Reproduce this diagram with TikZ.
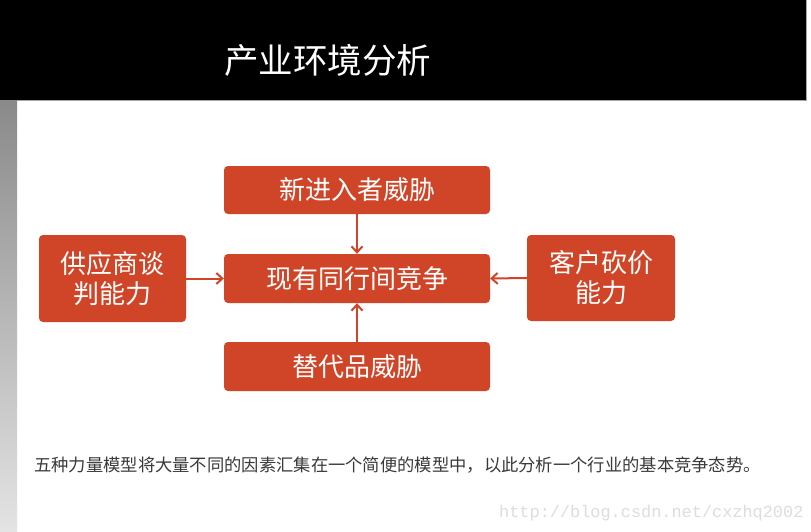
\documentclass[tikz,border=0pt]{standalone}
\usepackage{fontspec}
\newfontfamily\cjk{Noto Sans CJK SC}
\newfontfamily\wmfont{Liberation Mono}
\usetikzlibrary{arrows.meta}
\definecolor{boxred}{HTML}{D04527}
\definecolor{stripTop}{HTML}{8A8A8A}
\definecolor{stripBot}{HTML}{E4E4E4}
\definecolor{captiongray}{HTML}{3A3A3A}
\definecolor{wmgray}{HTML}{DDDDDD}
\tikzset{
  forcebox/.style={fill=boxred, rounded corners=4pt, inner sep=0pt, text=white,
    font=\cjk\fontsize{26}{30}\selectfont, align=center},
  forcearrow/.style={draw=boxred, line width=2pt, -{Straight Barb[length=6pt,width=11pt,line width=2pt]}}
}
\begin{document}
\begin{tikzpicture}[x=1pt,y=-1pt]
\useasboundingbox (0,0) rectangle (811,532);
\fill[white] (0,0) rectangle (811,532);
% header
\fill[black] (0,0) rectangle (806,100);
\draw[gray!70, line width=1pt] (0,100.5) -- (806,100.5);
\draw[gray!70, line width=1pt] (806.5,0) -- (806.5,101);
% left strip
\shade[top color=stripTop, bottom color=stripBot] (0,101) rectangle (17,532);
% title
\node[text=white, font=\cjk\fontsize{34.5}{38}\selectfont, anchor=west, inner sep=0pt] (title) at (224,60) {产业环境分析};
% boxes
\node[forcebox, minimum width=266pt, minimum height=48pt] (new) at (357,190) {新进入者威胁};
\node[forcebox, minimum width=266pt, minimum height=49pt] (rival) at (357,278.5) {现有同行间竞争};
\node[forcebox, minimum width=266pt, minimum height=49pt] (sub) at (357,366.5) {替代品威胁};
\node[forcebox, minimum width=147pt, minimum height=87pt] (supp) at (112.5,278.5) {供应商谈\\判能力};
\node[forcebox, minimum width=148pt, minimum height=86pt] (cust) at (601,278) {客户砍价\\能力};
% arrows
\draw[forcearrow] (new.south) -- (rival.north);
\draw[forcearrow] (sub.north) -- (rival.south);
\draw[forcearrow] (supp.east) -- (rival.west);
\draw[forcearrow] (cust.west) -- (rival.east);
% caption
\node[text=captiongray, font=\cjk\fontsize{17.3}{20}\selectfont, anchor=west, inner sep=0pt] (caption) at (34,465) {五种力量模型将大量不同的因素汇集在一个简便的模型中，以此分析一个行业的基本竞争态势。};
% watermark
\node[text=wmgray, font=\wmfont\fontsize{16.9}{18}\selectfont, anchor=west, inner sep=0pt] (wm) at (499,513) {http://blog.csdn.net/cxzhq2002};
\end{tikzpicture}
\end{document}
